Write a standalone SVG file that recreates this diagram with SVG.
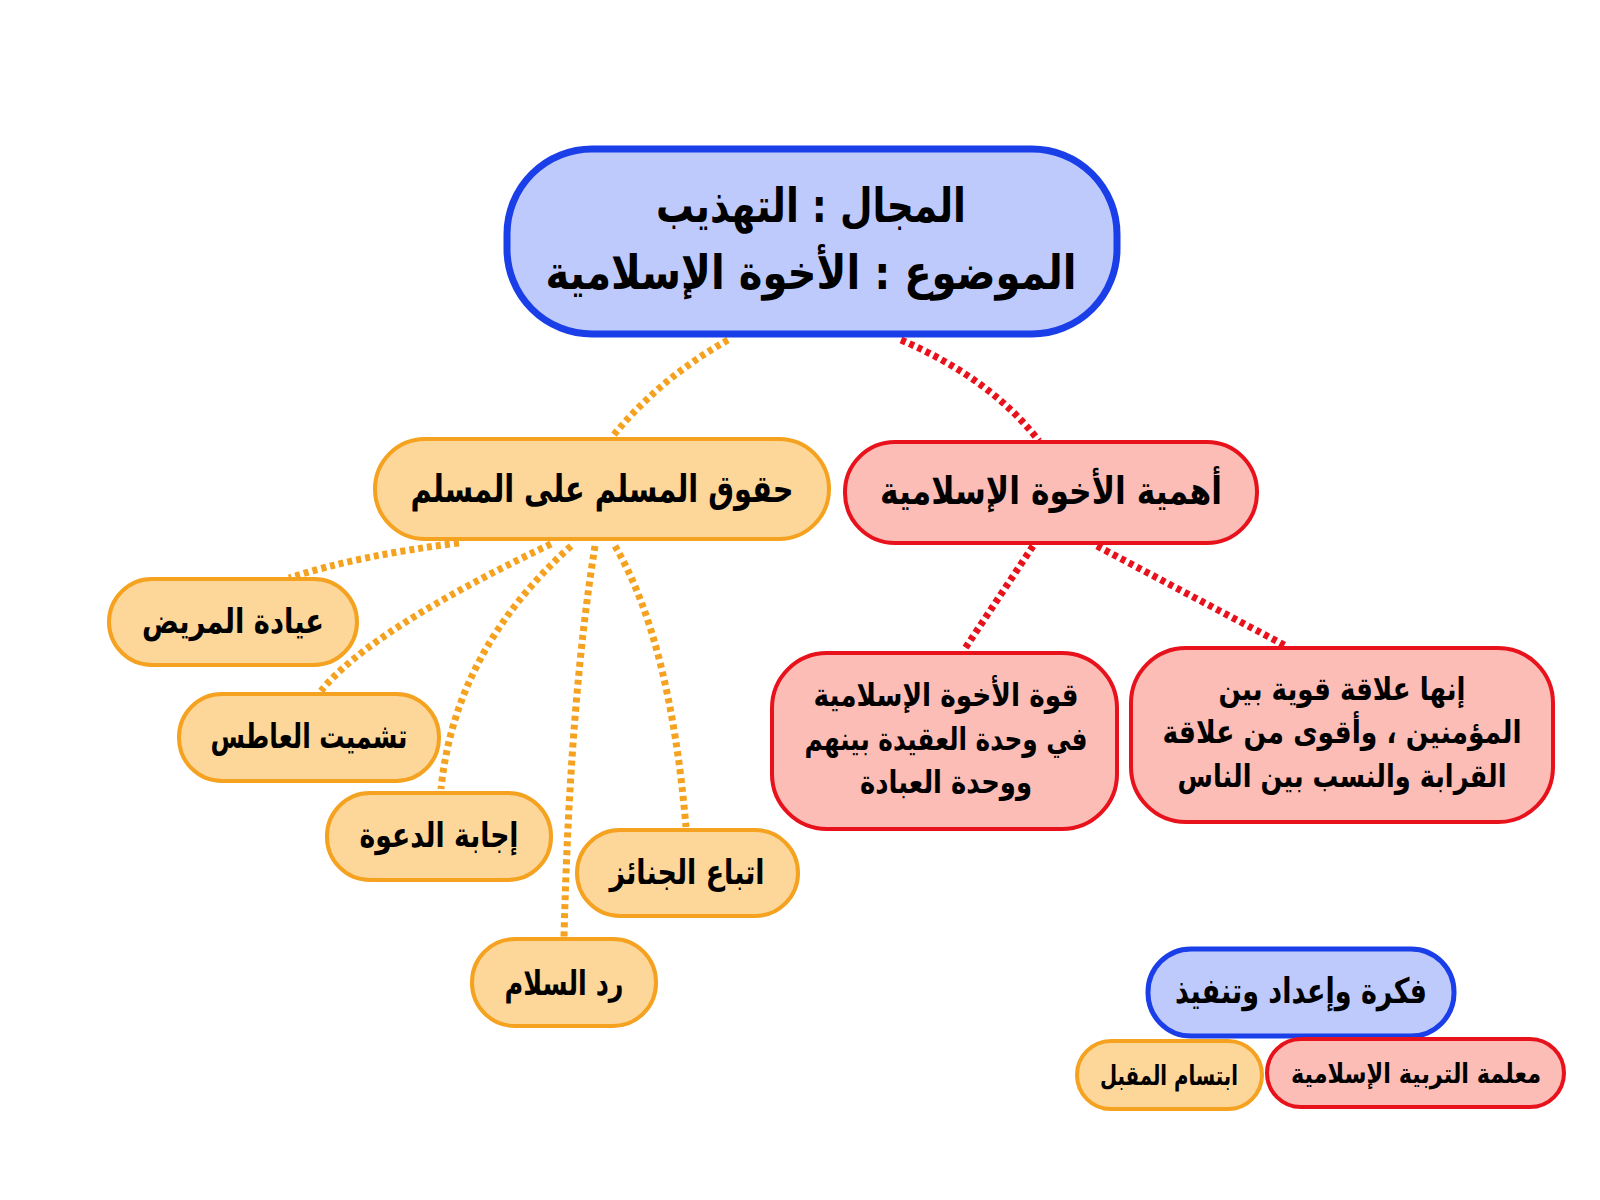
<svg xmlns="http://www.w3.org/2000/svg" width="1600" height="1200" viewBox="0 0 1600 1200">
<style>
.t{font-family:"DejaVu Sans","Liberation Sans",sans-serif;font-weight:bold;fill:#000;text-anchor:middle;direction:rtl}
.blue{fill:#bfcafc;stroke:#1a3ee8;stroke-width:7}
.bluesm{fill:#bfcafc;stroke:#1a3ee8;stroke-width:5}
.or{fill:#fdd699;stroke:#f4a21f;stroke-width:4}
.rd{fill:#fbbdb6;stroke:#e8121c;stroke-width:4}
.co{fill:none;stroke:#f4a21f;stroke-width:7;stroke-dasharray:5 4}
.cr{fill:none;stroke:#e8121c;stroke-width:7;stroke-dasharray:5 4}
</style>
<rect width="1600" height="1200" fill="#fff"/>
<g id="connectors">
<path class="co" d="M728,340 Q660,378 612,437"/>
<path class="cr" d="M901,340 Q990,378 1039,441"/>
<path class="cr" d="M1033,546 L964,650"/>
<path class="cr" d="M1097,546 L1286,646"/>
<path class="co" d="M459,543 Q360,555 289,578"/>
<path class="co" d="M551,544 Q370,630 321,691"/>
<path class="co" d="M571,546 Q455,650 441,789"/>
<path class="co" d="M595,546 Q570,700 564,937"/>
<path class="co" d="M615,546 Q670,640 686,827"/>
</g>
<g id="n-main">
<rect class="blue" x="507" y="149" width="610" height="185" rx="85"/>
<text class="t" x="811" y="222" font-size="47" textLength="310" lengthAdjust="spacingAndGlyphs">المجال : التهذيب</text>
<text class="t" x="811" y="289" font-size="47" textLength="531" lengthAdjust="spacingAndGlyphs">الموضوع : الأخوة الإسلامية</text>
</g>
<g id="n-rights">
<rect class="or" x="375" y="439" width="454" height="100" rx="50"/>
<text class="t" x="602" y="502" font-size="38" textLength="383" lengthAdjust="spacingAndGlyphs">حقوق المسلم على المسلم</text>
</g>
<g id="n-importance">
<rect class="rd" x="845" y="442" width="412" height="101" rx="50"/>
<text class="t" x="1051" y="504" font-size="38" textLength="342" lengthAdjust="spacingAndGlyphs">أهمية الأخوة الإسلامية</text>
</g>
<g id="n-strength">
<rect class="rd" x="772" y="653" width="345" height="176" rx="55"/>
<text class="t" x="946" y="706" font-size="32" textLength="265" lengthAdjust="spacingAndGlyphs">قوة الأخوة الإسلامية</text>
<text class="t" x="946" y="750" font-size="32" textLength="283" lengthAdjust="spacingAndGlyphs">في وحدة العقيدة بينهم</text>
<text class="t" x="946" y="793" font-size="32" textLength="172" lengthAdjust="spacingAndGlyphs">ووحدة العبادة</text>
</g>
<g id="n-relation">
<rect class="rd" x="1131" y="648" width="422" height="174" rx="55"/>
<text class="t" x="1342" y="700" font-size="32" textLength="247" lengthAdjust="spacingAndGlyphs">إنها علاقة قوية بين</text>
<text class="t" x="1342" y="743" font-size="32" textLength="359" lengthAdjust="spacingAndGlyphs">المؤمنين ، وأقوى من علاقة</text>
<text class="t" x="1342" y="787" font-size="32" textLength="329" lengthAdjust="spacingAndGlyphs">القرابة والنسب بين الناس</text>
</g>
<g id="n-visit">
<rect class="or" x="109" y="579" width="248" height="86" rx="43"/>
<text class="t" x="233" y="633" font-size="34" textLength="182" lengthAdjust="spacingAndGlyphs">عيادة المريض</text>
</g>
<g id="n-sneeze">
<rect class="or" x="179" y="694" width="260" height="87" rx="43"/>
<text class="t" x="309" y="748" font-size="34" textLength="197" lengthAdjust="spacingAndGlyphs">تشميت العاطس</text>
</g>
<g id="n-invite">
<rect class="or" x="327" y="793" width="224" height="87" rx="43"/>
<text class="t" x="439" y="847" font-size="34" textLength="159" lengthAdjust="spacingAndGlyphs">إجابة الدعوة</text>
</g>
<g id="n-funeral">
<rect class="or" x="577" y="830" width="221" height="86" rx="43"/>
<text class="t" x="687" y="884" font-size="34" textLength="155" lengthAdjust="spacingAndGlyphs">اتباع الجنائز</text>
</g>
<g id="n-salam">
<rect class="or" x="472" y="939" width="184" height="87" rx="43"/>
<text class="t" x="564" y="995" font-size="34" textLength="119" lengthAdjust="spacingAndGlyphs">رد السلام</text>
</g>
<g id="n-credit">
<rect class="bluesm" x="1148" y="949" width="306" height="87" rx="43"/>
<text class="t" x="1301" y="1003" font-size="35" textLength="252" lengthAdjust="spacingAndGlyphs">فكرة وإعداد وتنفيذ</text>
</g>
<g id="n-teacher">
<rect class="rd" x="1267" y="1039" width="297" height="68" rx="34"/>
<text class="t" x="1416" y="1083" font-size="27" textLength="250" lengthAdjust="spacingAndGlyphs">معلمة التربية الإسلامية</text>
</g>
<g id="n-author">
<rect class="or" x="1077" y="1041" width="185" height="68" rx="34"/>
<text class="t" x="1169" y="1085" font-size="27" textLength="138" lengthAdjust="spacingAndGlyphs">ابتسام المقبل</text>
</g>
</svg>
